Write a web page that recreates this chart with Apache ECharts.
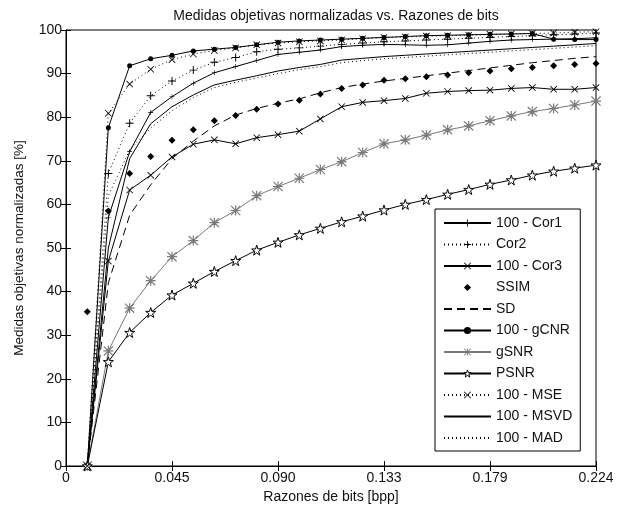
<!DOCTYPE html>
<html><head><meta charset="utf-8">
<script src="https://cdn.jsdelivr.net/npm/echarts@6/dist/echarts.min.js"></script>
<style>html,body{margin:0;padding:0;background:#fff}#c{width:617px;height:509px}</style>
</head><body><div id="c"></div>
<script>
// bit rates [bpp]
const bitrate = [0.0090,0.0179,0.0269,0.0358,0.0448,0.0538,0.0627,0.0717,0.0806,0.0896,0.0986,0.1075,0.1165,0.1254,0.1344,0.1434,0.1523,0.1613,0.1702,0.1792,0.1882,0.1971,0.2061,0.2150,0.2240];
const xTickLabels = ['0','0.045','0.090','0.133','0.179','0.224'];
const yTickLabels = ['0','10','20','30','40','50','60','70','80','90','100'];

const cor1 = [0,57,72.1,81.1,84.7,87.8,90.2,91.6,93.0,94.4,94.9,95.4,96.2,96.5,96.7,96.6,96.5,96.6,97.0,97.4,97.7,97.8,97.9,98.0,98.2];
const cor2 = [0,67.1,78.6,84.9,88.3,90.8,92.6,93.7,95.0,95.6,95.9,96.3,96.7,97.0,97.3,97.5,97.7,97.9,98.1,98.3,98.5,98.7,98.9,99.1,99.3];
const cor3 = [0,47,63.3,66.7,70.9,73.8,74.8,73.9,75.3,76.0,76.8,79.6,82.4,83.4,83.8,84.3,85.5,85.9,86.1,86.2,86.6,86.8,86.4,86.4,86.8];
const ssim = [35.4,58.5,67.1,71.0,74.7,77.1,79.2,80.4,81.8,83.0,83.9,85.3,86.6,87.4,88.5,88.8,89.3,89.7,90.2,90.6,91.1,91.4,91.8,92.1,92.3];
const sd   = [0,42,57.5,64.5,70.5,74.5,78.0,80.5,82.0,83.2,84.2,85.6,86.8,87.6,88.3,88.9,89.5,90.1,90.7,91.3,91.9,92.5,93.0,93.5,93.9];
const gcnr = [0,77.6,91.8,93.4,94.2,95.2,95.6,96.0,96.6,97.2,97.5,97.7,97.9,98.1,98.3,98.5,98.7,98.8,98.9,99.0,99.1,99.2,97.9,97.8,97.8];
const gsnr = [0,26.4,36.2,42.5,48.0,51.7,55.8,58.6,62.0,64.1,66.0,68.0,69.8,71.9,73.9,74.8,75.9,77.1,78.0,79.2,80.3,81.3,82.0,82.8,83.7];
const psnr = [0,23.9,30.6,35.2,39.2,41.9,44.6,47.1,49.5,51.3,53.0,54.5,56.0,57.3,58.7,60.0,61.1,62.3,63.4,64.6,65.6,66.7,67.6,68.3,69.0];
const mse  = [0,80.9,87.6,91.0,93.2,94.5,95.3,95.9,96.6,97.0,97.3,97.5,97.7,98.0,98.3,98.4,98.6,98.7,98.8,99.0,99.1,99.2,99.3,99.5,99.6];
const msvd = [0,50,70.5,78.5,82.4,85.1,87.4,88.5,89.5,90.6,91.4,92.1,93.1,93.5,93.9,94.2,94.5,94.8,95.1,95.4,95.7,96.0,96.3,96.6,96.9];
const mad  = [0,62,72.5,77.5,81.5,84.5,86.8,88.0,89.0,90.0,90.9,91.6,92.5,93.0,93.4,93.7,94.0,94.3,94.6,94.9,95.2,95.5,95.8,96.1,96.4];

const FONT = '"Liberation Sans", Arial, sans-serif';
const PLUS = 'M-0.12,-1L0.12,-1L0.12,-0.12L1,-0.12L1,0.12L0.12,0.12L0.12,1L-0.12,1L-0.12,0.12L-1,0.12L-1,-0.12L-0.12,-0.12Z';
const XS = 'M-1,-0.83L-0.83,-1L0,-0.17L0.83,-1L1,-0.83L0.17,0L1,0.83L0.83,1L0,0.17L-0.83,1L-1,0.83L-0.17,0Z';
const S_PLUS = 'path://' + PLUS;
const S_X = 'path://' + XS;
const S_AST = 'path://' + PLUS + XS;
const S_STAR = 'path://M0,-1L0.2245,-0.309L0.951,-0.309L0.363,0.118L0.588,0.809L0,0.382L-0.588,0.809L-0.363,0.118L-0.951,-0.309L-0.2245,-0.309Z';
const STAR_STYLE = {color:'#fff', borderColor:'#000', borderWidth:1};

function pts(vals){ return vals.map((v,i)=>[bitrate[i], v]); }
function mk(name, vals, o){
  const color = o.color || '#000';
  return {
    name, type:'line', data: pts(vals), xAxisIndex:0, yAxisIndex:0,
    symbol: o.symbol || 'circle', symbolSize: o.size || 6, showSymbol: !!o.symbol,
    lineStyle: {color, width: 1, type: o.type || 'solid', opacity: o.noLine ? 0 : 1},
    itemStyle: o.item || (o.symbol ? {color} : {color:'rgba(0,0,0,0)'}),
    emphasis: {disabled: true}, animation: false, z: o.z || 2
  };
}

const series = [
  mk('100 - Cor1', cor1, {symbol:S_PLUS, size:5}),
  mk('Cor2', cor2, {symbol:S_PLUS, size:8, type:[1,3]}),
  mk('100 - Cor3', cor3, {symbol:S_X, size:7}),
  mk('SSIM', ssim, {symbol:'diamond', size:7, noLine:true}),
  mk('SD', sd, {type:[8,5]}),
  mk('100 - gCNR', gcnr, {symbol:'circle', size:5}),
  mk('gSNR', gsnr, {symbol:S_AST, size:10, color:'#7a7a7a'}),
  mk('PSNR', psnr, {symbol:S_STAR, size:10, item:STAR_STYLE}),
  mk('100 - MSE', mse, {symbol:S_X, size:7, type:[1,3]}),
  mk('100 - MSVD', msvd, {}),
  mk('100 - MAD', mad, {type:[1,3]})
];

const axLine = {show:true, lineStyle:{color:'#000', width:1}};
const tick = {show:true, inside:true, length:5, lineStyle:{color:'#000', width:1}};
const lbl = {color:'#111', fontSize:14, fontFamily:FONT};

const option = {
  backgroundColor:'#fff',
  animation:false,
  title:{text:'Medidas objetivas normalizadas vs. Razones de bits', left:331, top:4, textAlign:'center',
    textStyle:{fontSize:14, fontWeight:'normal', color:'#111', fontFamily:FONT}},
  grid:{left:66, right:21, top:30, bottom:43, show:true, borderColor:'#000', borderWidth:1, backgroundColor:'#fff'},
  legend:{
    orient:'vertical', left:435, top:209, itemWidth:47, itemHeight:9, itemGap:7.5,
    padding:[7,8,6,8], backgroundColor:'#fff', borderColor:'#000', borderWidth:1, borderRadius:0,
    textStyle:{fontSize:14, fontFamily:FONT, color:'#111'},
    data: series.map(s=> s.name === 'PSNR' ? {name:s.name, itemStyle:STAR_STYLE} : s.name),
    selectedMode:false
  },
  xAxis:[
    {type:'value', min:0, max:0.224, interval:0.0448, axisLine:axLine, axisTick:tick, splitLine:{show:false},
     axisLabel:Object.assign({margin:5, formatter:v=>xTickLabels[Math.round(v/0.0448)]}, lbl),
     name:'Razones de bits [bpp]', nameLocation:'middle', nameGap:23, nameTextStyle:lbl},
    {type:'value', position:'top', min:0, max:0.224, interval:0.0448, axisLine:axLine, axisTick:tick,
     splitLine:{show:false}, axisLabel:{show:false}}
  ],
  yAxis:[
    {type:'value', min:0, max:100, interval:10, axisLine:axLine, axisTick:tick, splitLine:{show:false},
     axisLabel:Object.assign({margin:4, formatter:v=>yTickLabels[Math.round(v/10)]}, lbl),
     name:'Medidas objetivas normalizadas [%]', nameLocation:'middle', nameGap:40,
     nameTextStyle:Object.assign({}, lbl, {fontSize:13.5})},
    {type:'value', position:'right', min:0, max:100, interval:10, axisLine:axLine, axisTick:tick,
     splitLine:{show:false}, axisLabel:{show:false}}
  ],
  series
};
const chart = echarts.init(document.getElementById('c'), null, {renderer:'canvas'});
chart.setOption(option);
</script></body></html>
